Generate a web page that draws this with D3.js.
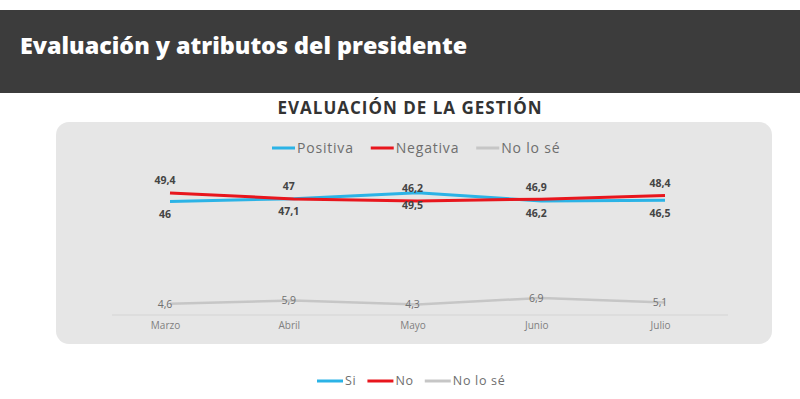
<!DOCTYPE html>
<html>
<head>
<meta charset="utf-8">
<script src="https://cdn.jsdelivr.net/npm/d3@7"></script>
<style>
  body { margin: 0; background: #fff; }
  svg { display: block; font-family: 'Open Sans', sans-serif; }
</style>
</head>
<body>
<div class="chart"></div>
<script>
// data
const months = ['Marzo', 'Abril', 'Mayo', 'Junio', 'Julio'];
const positiva = [46, 47.1, 49.5, 46.2, 46.5];
const negativa = [49.4, 47, 46.2, 46.9, 48.4];
const noLoSe = [4.6, 5.9, 4.3, 6.9, 5.1];

const topLegend = ['Positiva', 'Negativa', 'No lo sé'];
const bottomLegend = ['Si', 'No', 'No lo sé'];
const colors = ['#2bb3e6', '#e8161d', '#c6c6c6'];

const W = 800, H = 399;
const fmt = v => String(v).replace('.', ',');

const svg = d3.select('.chart')
  .append('svg')
  .attr('width', W)
  .attr('height', H);

// header band
svg.append('rect')
  .attr('x', 0).attr('y', 10)
  .attr('width', W).attr('height', 83)
  .style('fill', '#3c3c3c');

svg.append('text')
  .attr('x', 20).attr('y', 54)
  .style('fill', '#fff')
  .style('font-size', '23.3px')
  .style('font-weight', 800)
  .text('Evaluación y atributos del presidente');

svg.append('text')
  .attr('x', 410).attr('y', 114)
  .attr('text-anchor', 'middle')
  .style('fill', '#333')
  .style('font-size', '17px')
  .style('font-weight', 700)
  .style('letter-spacing', '1px')
  .text('EVALUACIÓN DE LA GESTIÓN');

// gray panel
svg.append('rect')
  .attr('x', 56).attr('y', 122)
  .attr('width', 716).attr('height', 222)
  .attr('rx', 13)
  .style('fill', '#e6e6e6');

// scales
const xScale = d3.scalePoint()
  .domain(months)
  .range([170, 665]);

const yScale = d3.scaleLinear()
  .domain([0, 50])
  .range([315, 191.5]);

// baseline + month labels
const xAxis = d3.axisBottom(xScale).tickSize(0).tickPadding(7);
const ax = svg.append('g')
  .attr('transform', `translate(0, ${yScale(0)})`)
  .call(xAxis);
ax.select('.domain').remove();
ax.selectAll('text')
  .attr('dx', -5)
  .style('fill', '#808080')
  .style('font-size', '10px')
  .style('font-family', "'Open Sans', sans-serif");

svg.append('line')
  .attr('x1', 112).attr('x2', 728)
  .attr('y1', yScale(0)).attr('y2', yScale(0))
  .style('stroke', '#d4d4d4');

const line = d3.line()
  .x((d, i) => xScale(months[i]))
  .y(d => yScale(d));

// no lo sé line and labels (label sits on the line)
svg.append('path')
  .datum(noLoSe)
  .attr('d', line)
  .style('fill', 'none')
  .style('stroke', colors[2])
  .style('stroke-width', 2.5);

svg.selectAll('.lbl-nls')
  .data(noLoSe)
  .join('text')
  .attr('class', 'lbl-nls')
  .attr('x', (d, i) => xScale(months[i]) - 5)
  .attr('y', d => yScale(d) + 4)
  .attr('text-anchor', 'middle')
  .style('fill', '#707070')
  .style('font-size', '10.5px')
  .text(fmt);

// main lines
[[positiva, colors[0]], [negativa, colors[1]]].forEach(([s, c]) => {
  svg.append('path')
    .datum(s)
    .attr('d', line)
    .style('fill', 'none')
    .style('stroke', c)
    .style('stroke-width', 3);
});

// negativa labels above, positiva labels below
svg.selectAll('.lbl-neg')
  .data(negativa)
  .join('text')
  .attr('class', 'lbl-neg')
  .attr('x', (d, i) => xScale(months[i]) - 5)
  .attr('y', d => yScale(d) - 8.5)
  .attr('text-anchor', 'middle')
  .style('fill', '#444')
  .style('font-size', '10.5px')
  .style('font-weight', 700)
  .text(fmt);

svg.selectAll('.lbl-pos')
  .data(positiva)
  .join('text')
  .attr('class', 'lbl-pos')
  .attr('x', (d, i) => xScale(months[i]) - 5)
  .attr('y', d => yScale(d) + 16.5)
  .attr('text-anchor', 'middle')
  .style('fill', '#444')
  .style('font-size', '10.5px')
  .style('font-weight', 700)
  .text(fmt);

// legends
function legend(names, x0, y, gaps, fontSize, lineW, spacing) {
  const g = svg.append('g');
  let x = x0;
  names.forEach((n, i) => {
    g.append('line')
      .attr('x1', x).attr('x2', x + lineW)
      .attr('y1', y).attr('y2', y)
      .style('stroke', colors[i])
      .style('stroke-width', 3);
    const t = g.append('text')
      .attr('x', x + lineW + 2)
      .attr('y', y + fontSize * 0.35)
      .style('fill', '#6e6e6e')
      .style('font-size', fontSize + 'px')
      .style('letter-spacing', spacing + 'px')
      .text(n);
    x += lineW + 2 + t.node().getBBox().width + gaps;
  });
}

legend(topLegend, 272, 148, 17, 14, 23, 0.8);
legend(bottomLegend, 317, 381, 11, 12.5, 26, 0.7);
</script>
</body>
</html>
